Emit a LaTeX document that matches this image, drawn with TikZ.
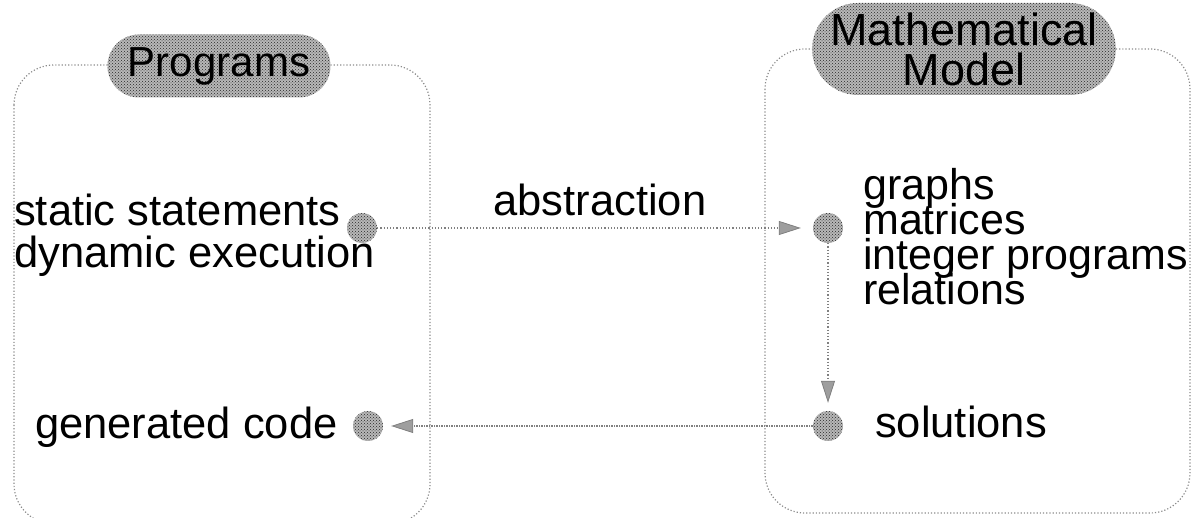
\documentclass[tikz,border=0pt]{standalone}
\usepackage{fontspec}
\setmainfont{Liberation Sans}
\usetikzlibrary{patterns,arrows.meta,shapes.misc}
\newcommand\mytightlines{\lineskiplimit=-100pt\relax\lineskip=0pt\relax}
\begin{document}
\begin{tikzpicture}[x=1pt,y=-1pt,
  frame/.style={draw=black!45, dotted, line width=1.2pt, rounded corners=40pt},
  dotfill/.style={preaction={fill=black!28}, pattern=crosshatch dots, pattern color=black!85},
  pill/.style={rounded rectangle, dotfill, inner sep=0, align=center,
    font=\fontsize{42}{40}\selectfont},
  hub/.style={circle, dotfill, minimum size=30pt, inner sep=0},
  lbl/.style={font=\fontsize{43.5}{42}\selectfont, inner sep=0, anchor=west, align=left},
  lbllist/.style={lbl, font=\fontsize{43}{35}\selectfont\mytightlines},
  conn/.style={draw=black!50, line width=1.2pt, dotted,
    -{Triangle[length=22pt,width=14pt,fill=black!38,line width=0.8pt]}},
]
\useasboundingbox (0,0) rectangle (1192,518);
% boxes
\draw[frame] (14,65) rectangle (430,524);
\draw[frame] (765,49) rectangle (1190,513);
% titles
\node[pill, minimum width=223pt, minimum height=63pt] (progt) at (219,66) {Programs};
\node[pill, minimum width=292pt, minimum height=92pt, font=\fontsize{45}{40}\selectfont] (matht) at (964,49) {Mathematical\\Model};
% text
\node[lbl] (stat) at (14,235) {static statements\\dynamic execution};
\node[lbllist] (list) at (863,237) {graphs\\matrices\\integer programs\\relations};
\node[lbl] (gen) at (35,427) {generated code};
\node[lbl] (sol) at (875,422) {solutions};
\node[font=\fontsize{43.5}{42}\selectfont, inner sep=0] (abs) at (600,200) {abstraction};
% hubs
\node[hub] (h1) at (362,228) {};
\node[hub] (h2) at (828,228) {};
\node[hub] (h3) at (828,426) {};
\node[hub] (h4) at (368,426) {};
% connectors
\draw[conn, shorten >=12pt] (h1) -- (h2);
\draw[conn, shorten >=8pt] (h2) -- (h3);
\draw[conn, dash pattern=on 1.5pt off 1pt, shorten >=8pt] (h3) -- (h4);
\end{tikzpicture}
\end{document}
